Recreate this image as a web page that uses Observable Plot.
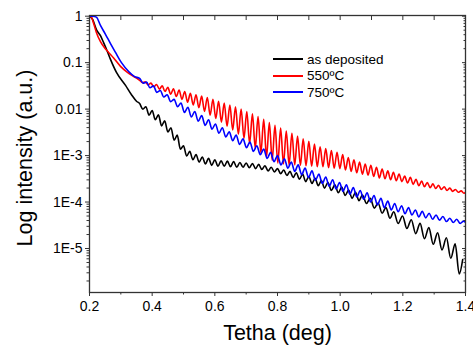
<!DOCTYPE html>
<html>
<head>
<meta charset="utf-8">
<script src="https://cdn.jsdelivr.net/npm/d3@7"></script>
<script src="https://cdn.jsdelivr.net/npm/@observablehq/plot@0.6"></script>
<style>
  html, body { margin: 0; padding: 0; background: #fff; }
  #wrap { position: relative; width: 473px; height: 349px; font-family: Arial, "Liberation Sans", sans-serif; }
  #legend { position: absolute; left: 273px; top: 51px; font-size: 13.5px; color: #000; }
  #legend .row { display: flex; align-items: center; height: 16.5px; }
  #legend .sw { width: 30px; height: 0; border-top: 2px solid; margin-right: 4px; }
</style>
</head>
<body>
<div id="wrap"><div id="legend"></div></div>
<script>
// ---- data (theta in deg, log10 of intensity) ----
const seriesNames = ["as deposited", "550ºC", "750ºC"];
const seriesColors = ["#000000", "#ff0000", "#0000ff"];

const blackPoints = [[0.200,0],[0.210,-0.07],[0.222,-0.29],[0.235,-0.42],[0.245,-0.57],[0.257,-0.76],[0.267,-0.93],[0.286,-1.21],[0.315,-1.49],[0.334,-1.69],[0.350,-1.83],
[0.360,-1.88],[0.370,-2.00],[0.380,-1.95],[0.390,-2.13],[0.400,-2.03],[0.410,-2.23],[0.420,-2.12],[0.430,-2.36],[0.440,-2.25],[0.450,-2.49],[0.460,-2.40],[0.470,-2.67],[0.480,-2.56],[0.490,-2.86],[0.500,-2.79],[0.510,-3.01],[0.520,-2.91],[0.530,-3.09],[0.540,-2.98],[0.550,-3.14],[0.560,-3.03],[0.570,-3.18],[0.580,-3.06],[0.590,-3.21],[0.600,-3.09],[0.610,-3.23],[0.620,-3.11],[0.630,-3.23],[0.640,-3.12],[0.650,-3.24],[0.660,-3.13],[0.670,-3.25],[0.680,-3.15],[0.690,-3.25],[0.700,-3.16],[0.710,-3.26],[0.720,-3.17],[0.730,-3.28],[0.740,-3.19],[0.750,-3.30],[0.760,-3.22],[0.770,-3.33],[0.780,-3.25],[0.790,-3.35],[0.800,-3.28],[0.810,-3.39],[0.820,-3.31],[0.830,-3.43],[0.840,-3.34],[0.850,-3.47],[0.860,-3.37],[0.870,-3.51],[0.880,-3.40],[0.890,-3.56],[0.900,-3.45],[0.910,-3.60],[0.920,-3.49],[0.930,-3.65],[0.940,-3.54],[0.950,-3.70],[0.961,-3.58],[0.972,-3.75],[0.983,-3.63],[0.994,-3.80],[1.005,-3.68],[1.016,-3.86],[1.027,-3.74],[1.038,-3.92],[1.049,-3.79],[1.060,-3.97],[1.071,-3.85],[1.084,-4.03],[1.096,-3.92],[1.109,-4.13],[1.121,-4.02],[1.134,-4.24],[1.146,-4.12],[1.159,-4.35],[1.171,-4.21],[1.185,-4.46],[1.199,-4.30],[1.213,-4.57],[1.227,-4.38],[1.241,-4.68],[1.255,-4.46],[1.269,-4.79],[1.283,-4.55],[1.297,-4.91],[1.311,-4.66],[1.325,-5.03],[1.339,-4.77],[1.353,-5.21],[1.367,-4.90],[1.380,-5.55],[1.391,-5.24]];

const redPoints = [[0.200,0],[0.206,-0.02],[0.213,-0.15],[0.222,-0.35],[0.235,-0.55],[0.248,-0.68],[0.261,-0.78],[0.277,-0.90],[0.299,-1.08],[0.321,-1.21],[0.347,-1.32],
[0.360,-1.38],[0.369,-1.43],[0.378,-1.41],[0.387,-1.48],[0.396,-1.44],[0.405,-1.52],[0.414,-1.47],[0.423,-1.57],[0.432,-1.50],[0.441,-1.62],[0.450,-1.53],[0.459,-1.68],[0.468,-1.56],[0.477,-1.73],[0.486,-1.59],[0.495,-1.79],[0.504,-1.62],[0.513,-1.85],[0.522,-1.66],[0.531,-1.91],[0.540,-1.69],[0.549,-1.97],[0.558,-1.72],[0.567,-2.05],[0.576,-1.75],[0.585,-2.13],[0.594,-1.79],[0.603,-2.20],[0.612,-1.83],[0.621,-2.28],[0.630,-1.87],[0.639,-2.37],[0.648,-1.91],[0.657,-2.45],[0.666,-1.95],[0.675,-2.54],[0.684,-2.00],[0.693,-2.63],[0.702,-2.05],[0.711,-2.74],[0.720,-2.10],[0.729,-2.84],[0.738,-2.16],[0.747,-2.94],[0.756,-2.22],[0.765,-3.03],[0.774,-2.29],[0.783,-3.10],[0.792,-2.35],[0.801,-3.16],[0.810,-2.41],[0.819,-3.18],[0.828,-2.47],[0.837,-3.20],[0.846,-2.52],[0.855,-3.20],[0.864,-2.58],[0.873,-3.21],[0.882,-2.64],[0.891,-3.22],[0.900,-2.69],[0.909,-3.23],[0.918,-2.75],[0.927,-3.24],[0.936,-2.81],[0.945,-3.24],[0.954,-2.85],[0.963,-3.26],[0.972,-2.89],[0.981,-3.27],[0.990,-2.93],[0.999,-3.28],[1.008,-2.98],[1.017,-3.31],[1.026,-3.04],[1.035,-3.34],[1.044,-3.09],[1.053,-3.37],[1.062,-3.14],[1.071,-3.40],[1.080,-3.18],[1.089,-3.42],[1.098,-3.21],[1.107,-3.45],[1.116,-3.25],[1.125,-3.48],[1.134,-3.29],[1.143,-3.50],[1.152,-3.33],[1.161,-3.52],[1.170,-3.36],[1.179,-3.54],[1.188,-3.40],[1.197,-3.56],[1.206,-3.44],[1.215,-3.59],[1.224,-3.47],[1.233,-3.62],[1.242,-3.51],[1.251,-3.65],[1.260,-3.55],[1.269,-3.67],[1.278,-3.58],[1.287,-3.69],[1.296,-3.61],[1.305,-3.71],[1.314,-3.64],[1.323,-3.73],[1.332,-3.67],[1.341,-3.75],[1.350,-3.70],[1.359,-3.77],[1.368,-3.73],[1.377,-3.79],[1.386,-3.76],[1.395,-3.81],[1.400,-3.79]];

const bluePoints = [[0.200,0],[0.210,0],[0.222,-0.02],[0.235,-0.20],[0.251,-0.39],[0.267,-0.59],[0.283,-0.78],[0.302,-1.00],[0.325,-1.19],[0.344,-1.30],
[0.360,-1.34],[0.371,-1.44],[0.382,-1.42],[0.393,-1.54],[0.404,-1.50],[0.415,-1.64],[0.426,-1.60],[0.437,-1.74],[0.448,-1.69],[0.459,-1.84],[0.470,-1.79],[0.481,-1.95],[0.492,-1.87],[0.503,-2.07],[0.514,-1.96],[0.525,-2.17],[0.536,-2.05],[0.547,-2.26],[0.558,-2.14],[0.569,-2.35],[0.580,-2.23],[0.591,-2.43],[0.602,-2.32],[0.613,-2.52],[0.624,-2.40],[0.635,-2.60],[0.646,-2.49],[0.657,-2.68],[0.668,-2.56],[0.679,-2.76],[0.690,-2.64],[0.701,-2.83],[0.712,-2.71],[0.723,-2.91],[0.734,-2.79],[0.745,-2.98],[0.756,-2.86],[0.767,-3.06],[0.778,-2.93],[0.789,-3.13],[0.800,-3.00],[0.811,-3.20],[0.822,-3.07],[0.833,-3.27],[0.844,-3.14],[0.855,-3.34],[0.866,-3.20],[0.877,-3.41],[0.888,-3.27],[0.899,-3.47],[0.910,-3.33],[0.921,-3.53],[0.932,-3.40],[0.943,-3.60],[0.954,-3.46],[0.965,-3.66],[0.976,-3.52],[0.987,-3.72],[0.998,-3.58],[1.009,-3.77],[1.020,-3.63],[1.031,-3.83],[1.042,-3.69],[1.053,-3.89],[1.064,-3.75],[1.075,-3.94],[1.086,-3.80],[1.097,-4.00],[1.108,-3.86],[1.119,-4.06],[1.130,-3.92],[1.141,-4.12],[1.152,-3.98],[1.163,-4.17],[1.174,-4.03],[1.185,-4.21],[1.196,-4.08],[1.207,-4.25],[1.218,-4.12],[1.229,-4.28],[1.240,-4.17],[1.251,-4.32],[1.262,-4.20],[1.273,-4.34],[1.284,-4.24],[1.295,-4.37],[1.306,-4.28],[1.317,-4.39],[1.328,-4.31],[1.339,-4.42],[1.350,-4.35],[1.361,-4.44],[1.372,-4.37],[1.383,-4.46],[1.394,-4.41],[1.400,-4.44]];

const xTicks = [0.2, 0.4, 0.6, 0.8, 1.0, 1.2, 1.4];
const xMinorTicks = [0.3, 0.5, 0.7, 0.9, 1.1, 1.3];
const yTickValues = [1, 0.1, 0.01, 1e-3, 1e-4, 1e-5];
const yTickLabels = ["1", "0.1", "0.01", "1E-3", "1E-4", "1E-5"];
const yDecades = [1e-6, 1e-5, 1e-4, 1e-3, 1e-2, 1e-1];
const yMultipliers = [2, 3, 4, 5, 6, 7, 8, 9];
const xTitle = "Tetha (deg)";
const yTitle = "Log intensity (a.u.)";

// ---- build table ----
const pointSets = [blackPoints, redPoints, bluePoints];
const table = pointSets.flatMap((pts, s) => pts.map(([t, lg]) => ({series: seriesNames[s], theta: t, intensity: Math.pow(10, lg)})));
const yDomain = [1.13e-6, 1.035];
const yMinorTicks = yDecades.flatMap(d => yMultipliers.map(m => d * m)).filter(v => v > yDomain[0] && v < yDomain[1]);

const axisStroke = "#333";
const chart = Plot.plot({
  width: 473, height: 349,
  marginLeft: 89, marginRight: 8, marginTop: 15, marginBottom: 57,
  style: {fontFamily: "Arial, 'Liberation Sans', sans-serif", fontSize: "14px", color: "#000", background: "#fff", overflow: "visible"},
  x: {domain: [0.2, 1.4]},
  y: {type: "log", domain: yDomain},
  color: {domain: seriesNames, range: seriesColors},
  marks: [
    Plot.line(table, {x: "theta", y: "intensity", z: "series", stroke: "series", strokeWidth: 1.6, curve: "monotone-x", clip: true}),
    Plot.frame({stroke: axisStroke, strokeWidth: 1.3}),
    Plot.axisX({ticks: xTicks, tickFormat: d3.format(".1f"), tickSize: 4, tickPadding: 5, label: null, stroke: axisStroke, fill: "#000", fontSize: 14}),
    Plot.axisX({ticks: xMinorTicks, tickSize: 2.5, tickFormat: () => "", label: null, stroke: axisStroke}),
    Plot.axisX({anchor: "top", ticks: xTicks.concat(xMinorTicks), tickSize: 4, dy: 4, tickFormat: () => "", label: null, stroke: axisStroke}),
    Plot.axisY({ticks: yTickValues, tickFormat: d => yTickLabels[yTickValues.indexOf(d)], tickSize: 4, tickPadding: 3, label: null, stroke: axisStroke, fill: "#000", fontSize: 14}),
    Plot.axisY({ticks: yMinorTicks, tickSize: 2.5, tickFormat: () => "", label: null, stroke: axisStroke}),
    Plot.axisY({anchor: "right", ticks: yTickValues, tickSize: 4, dx: -4, tickFormat: () => "", label: null, stroke: axisStroke}),
    Plot.axisY({anchor: "right", ticks: yMinorTicks, tickSize: 2.5, dx: -2.5, tickFormat: () => "", label: null, stroke: axisStroke}),
    Plot.text([yTitle], {frameAnchor: "left", rotate: -90, dx: -64, dy: 4, textAnchor: "middle", lineAnchor: "middle", fontSize: 21.5, fill: "#000"}),
    Plot.text([xTitle], {frameAnchor: "bottom", dy: 41, textAnchor: "middle", lineAnchor: "middle", fontSize: 21.5, fill: "#000"})
  ]
});
document.getElementById("wrap").prepend(chart);

// ---- legend ----
const legend = document.getElementById("legend");
seriesNames.forEach((name, i) => {
  const row = document.createElement("div");
  row.className = "row";
  const sw = document.createElement("span");
  sw.className = "sw";
  sw.style.borderTopColor = seriesColors[i];
  const label = document.createElement("span");
  label.textContent = name;
  row.appendChild(sw);
  row.appendChild(label);
  legend.appendChild(row);
});
</script>
</body>
</html>
